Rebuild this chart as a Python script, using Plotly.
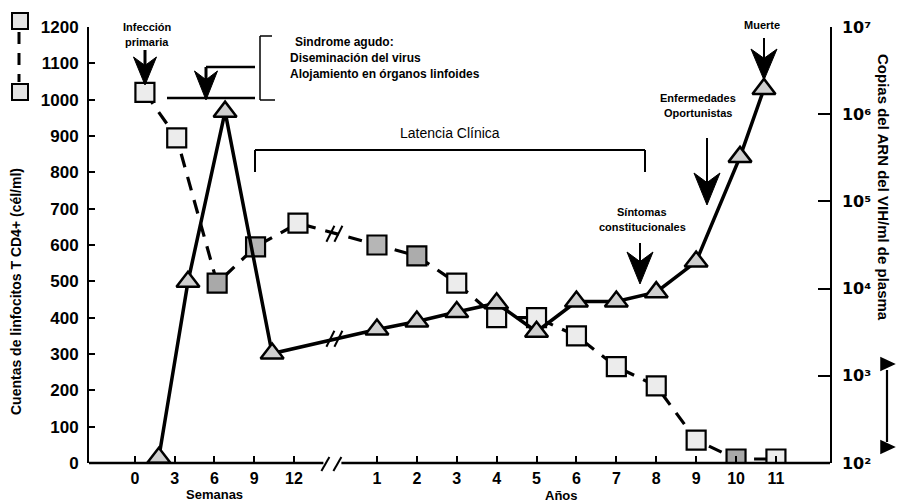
import numpy as np
import plotly.graph_objects as go

# ---------------------------------------------------------------------------
# Data
# ---------------------------------------------------------------------------
# Time axis: first weeks after infection, then years (broken axis)
week_ticks = [0, 3, 6, 9, 12]
year_ticks = [1, 2, 3, 4, 5, 6, 7, 8, 9, 10, 11]

# CD4+ T-lymphocyte counts (cells/ml)
cd4_week_t = [0.75, 3.15, 6.2, 9.1, 12.3]
cd4_week_v = [1020, 895, 495, 595, 660]
cd4_year_t = [1, 2, 3, 4, 5, 6, 7, 8, 9, 10, 11]
cd4_year_v = [600, 570, 495, 400, 400, 350, 265, 212, 63, 11, 11]

# HIV RNA copies per ml of plasma
vl_week_t = [1.8, 4.0, 6.8, 10.35]
vl_week_v = [115, 12000, 1070000, 1800]
vl_year_t = [1, 2, 3, 4, 5, 6, 7, 8, 9, 10.1, 10.7]
vl_year_v = [3400, 4200, 5400, 6800, 3200, 7100, 7100, 9100, 20400, 324000, 1950000]

left_ticks = list(range(0, 1201, 100))
right_ticks = [1e2, 1e3, 1e4, 1e5, 1e6, 1e7]
SUP = str.maketrans("0123456789", "⁰¹²³⁴⁵⁶⁷⁸⁹")
right_ticktext = ["10" + str(int(np.log10(v))).translate(SUP) for v in right_ticks]

# ---------------------------------------------------------------------------
# Composite time scale (weeks section + years section)
# ---------------------------------------------------------------------------
YEAR_START = 18.26   # axis position of year 1
YEAR_STEP = 3.011    # axis units per year
XMIN, XMAX = -3.47, 52.45
BREAK_X = 15.2


def pos_week(w):
    return float(w)


def pos_year(y):
    return YEAR_START + YEAR_STEP * (y - 1)


# Figure geometry (pixels) for decorations placed in paper coordinates
W, H = 897, 502
L, R, T, B = 89, 830, 27, 463


def ppx(x):
    return (x - L) / (R - L)


def ppy(y):
    return (B - y) / (B - T)


def xpix(p):
    return L + (p - XMIN) / (XMAX - XMIN) * (R - L)


def ypix_cd4(v):
    return B - v / 1200 * (B - T)


def ypix_vl(c):
    return B - (np.log10(c) - 2) / 5 * (B - T)


cd4_x = [pos_week(t) for t in cd4_week_t] + [pos_year(t) for t in cd4_year_t]
cd4_y = cd4_week_v + cd4_year_v
vl_x = [pos_week(t) for t in vl_week_t] + [pos_year(t) for t in vl_year_t]
vl_y = vl_week_v + vl_year_v

# grey-shaded squares vs. light speckled squares
shaded = {2: "#a9a9a9", 3: "#b4b4b4", 5: "#b6b6b6", 6: "#acacac", 14: "#a8a8a8"}
cd4_fill = [shaded.get(i, "#ececec") for i in range(len(cd4_x))]

fig = go.Figure()

fig.add_trace(go.Scatter(
    x=cd4_x, y=cd4_y, mode="lines+markers", yaxis="y",
    line=dict(color="black", width=3.2, dash="14px,10px"),
    marker=dict(symbol="square", size=19, color=cd4_fill,
                line=dict(color="black", width=2.2)),
    hoverinfo="skip",
))

fig.add_trace(go.Scatter(
    x=vl_x, y=vl_y, mode="lines+markers", yaxis="y2",
    line=dict(color="black", width=3.5),
    marker=dict(symbol="triangle-up", size=20, color="#cfcfcf",
                line=dict(color="black", width=2.5)),
    hoverinfo="skip",
))

shapes = []


def seg(x0, y0, x1, y1, w=2.0):
    shapes.append(dict(type="line", xref="paper", yref="paper",
                       x0=ppx(x0), y0=ppy(y0), x1=ppx(x1), y1=ppy(y1),
                       line=dict(color="black", width=w)))


def poly(points, fill="black", w=1.0):
    path = "M " + " L ".join("%f %f" % (ppx(px), ppy(py)) for px, py in points) + " Z"
    shapes.append(dict(type="path", xref="paper", yref="paper", path=path,
                       fillcolor=fill, line=dict(color="black", width=w)))


def down_arrow(x, tail, tip, head_w, head_h, shaft=2.0):
    """Vertical arrow pointing down with a notched, filled head."""
    notch = head_h * 0.3
    seg(x, tail, x, tip - head_h + notch + 1, shaft)
    poly([(x, tip), (x - head_w / 2, tip - head_h), (x, tip - head_h + notch),
          (x + head_w / 2, tip - head_h)])


# bottom axis line with a break
bx = xpix(BREAK_X)
seg(L, B, bx - 13, B, 2.5)
seg(bx + 5, B, R, B, 2.5)
for dx in (-12, 0):
    seg(bx + dx - 3, B + 8, bx + dx + 5, B - 6, 2)

# break marks on both curves
cd4_px = [xpix(p) for p in cd4_x]
vl_px = [xpix(p) for p in vl_x]
yb_cd4 = np.interp(bx, cd4_px, [ypix_cd4(v) for v in cd4_y])
yb_vl = np.interp(bx, vl_px, [ypix_vl(v) for v in vl_y])
for yb in (yb_cd4, yb_vl):
    for dx in (-6, 2):
        seg(bx + dx - 4, yb + 8, bx + dx + 4, yb - 8, 2)

# acute syndrome marks
seg(206, 67, 255, 67, 2.5)
seg(167, 98, 255, 98, 2.5)
seg(272, 36, 260, 36, 1.5)
seg(260, 36, 260, 100, 1.5)
seg(260, 100, 275, 100, 1.5)

# clinical latency bracket
seg(255, 172, 255, 150, 2)
seg(255, 150, 645, 150, 2)
seg(645, 150, 645, 172, 2)

# event arrows
down_arrow(145, 50, 85, 23, 28, 3)     # primary infection
down_arrow(206, 67, 100, 23, 29, 3)    # acute syndrome
down_arrow(707, 138, 205, 26, 32, 2)   # opportunistic diseases
down_arrow(640, 243, 284, 26, 32, 2)   # constitutional symptoms
down_arrow(764, 38, 80, 26, 31, 2)     # death

# left key: squares joined by a dashed line
for cy in (21, 92):
    shapes.append(dict(type="rect", xref="paper", yref="paper",
                       x0=ppx(12), x1=ppx(28), y0=ppy(cy + 8), y1=ppy(cy - 8),
                       fillcolor="#e4e4e4", line=dict(color="black", width=2)))
shapes.append(dict(type="line", xref="paper", yref="paper",
                   x0=ppx(19), x1=ppx(19), y0=ppy(32), y1=ppy(82),
                   line=dict(color="black", width=3, dash="12px,9px")))

# right key: triangles joined by a solid line
seg(887, 370, 887, 442, 2.2)
for cy in (364, 447):
    poly([(881, cy - 6), (881, cy + 6), (894, cy)], w=1.5)

annotations = []


def label(x, y, text, size=11, bold=True, xanchor="center"):
    annotations.append(dict(
        xref="paper", yref="paper", x=ppx(x), y=ppy(y), text=text,
        showarrow=False, xanchor=xanchor, yanchor="middle",
        font=dict(size=size, color="black", family="Liberation Sans, Arial, sans-serif",
                  weight="bold" if bold else "normal"),
    ))


label(147, 27, "Infección", 11)
label(147, 42, "primaria", 11)

label(293, 42, "Sindrome agudo:", 12, xanchor="left")
label(288, 58, "Diseminación del virus", 12, xanchor="left")
label(288, 74, "Alojamiento en órganos linfoides", 12, xanchor="left")

label(450, 133, "Latencia Clínica", 14, bold=False)

label(698, 98, "Enfermedades", 11)
label(698, 113, "Oportunistas", 11)

label(642, 212, "Síntomas", 11)
label(642, 227, "constitucionales", 11)

label(762, 25, "Muerte", 11)

label(214, 494, "Semanas", 13)
label(561, 495, "Años", 13)

annotations.append(dict(
    xref="paper", yref="paper", x=ppx(16), y=ppy(292), textangle=-90,
    text="Cuentas de linfocitos T CD4+ (cél/ml)", showarrow=False,
    xanchor="center", yanchor="middle",
    font=dict(size=14, color="black", weight="bold"),
))
annotations.append(dict(
    xref="paper", yref="paper", x=ppx(884), y=ppy(187), textangle=90,
    text="Copias del ARN del VIH/ml de plasma", showarrow=False,
    xanchor="center", yanchor="middle",
    font=dict(size=15, color="black", weight="bold"),
))

xt_vals = [pos_week(w) for w in week_ticks] + [pos_year(y) for y in year_ticks]
xt_text = [str(w) for w in week_ticks] + [str(y) for y in year_ticks]

fig.update_layout(
    width=W, height=H,
    margin=dict(l=L, r=W - R, t=T, b=H - B),
    plot_bgcolor="white", paper_bgcolor="white",
    showlegend=False,
    font=dict(family="Liberation Sans, Arial, sans-serif", color="black"),
    xaxis=dict(
        range=[XMIN, XMAX], tickvals=xt_vals, ticktext=xt_text,
        ticks="inside", ticklen=7, tickwidth=1.5, tickcolor="black",
        showgrid=False, zeroline=False, showline=False,
        tickfont=dict(size=16, weight="bold"), ticklabelstandoff=4,
    ),
    yaxis=dict(
        range=[0, 1200], tickvals=left_ticks,
        ticks="inside", ticklen=6, tickwidth=1.5, tickcolor="black",
        showgrid=False, zeroline=False, showline=True, linewidth=2, linecolor="black",
        tickfont=dict(size=17, weight="bold"), ticklabelstandoff=5,
    ),
    yaxis2=dict(
        type="log", range=[2, 7], overlaying="y", side="right",
        tickvals=right_ticks, ticktext=right_ticktext,
        ticks="inside", ticklen=12, tickwidth=1.5, tickcolor="black",
        showgrid=False, zeroline=False, showline=True, linewidth=1.5, linecolor="black",
        tickfont=dict(size=16, weight="bold", family="DejaVu Sans, Liberation Sans, sans-serif"),
        ticklabelstandoff=7,
    ),
    shapes=shapes,
    annotations=annotations,
)

fig.write_html("out.html")
